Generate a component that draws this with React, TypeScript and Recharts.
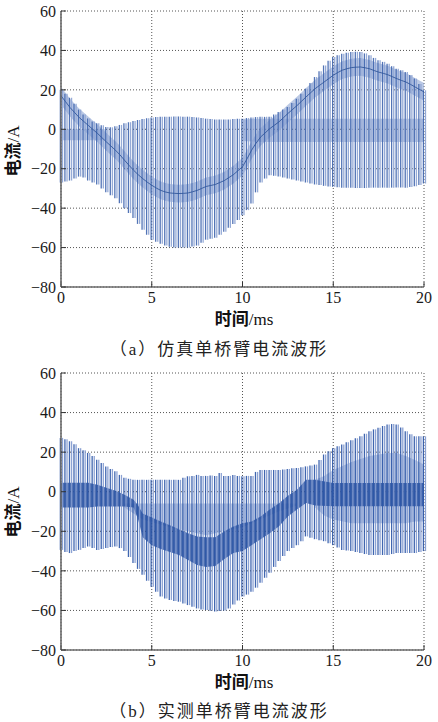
import React from 'react';
import { ComposedChart, Bar, Area, Line, XAxis, YAxis, CartesianGrid } from 'recharts';

// sample times (ms)
const timeMs = [
  0, 0.25, 0.5, 0.75, 1, 1.25, 1.5, 1.75, 2, 2.25, 2.5, 2.75, 3, 3.25, 3.5, 3.75,
  4, 4.25, 4.5, 4.75, 5, 5.25, 5.5, 5.75, 6, 6.25, 6.5, 6.75, 7, 7.25, 7.5, 7.75,
  8, 8.25, 8.5, 8.75, 9, 9.25, 9.5, 9.75, 10, 10.25, 10.5, 10.75, 11, 11.25, 11.5, 11.75,
  12, 12.25, 12.5, 12.75, 13, 13.25, 13.5, 13.75, 14, 14.25, 14.5, 14.75, 15, 15.25, 15.5, 15.75,
  16, 16.25, 16.5, 16.75, 17, 17.25, 17.5, 17.75, 18, 18.25, 18.5, 18.75, 19, 19.25, 19.5, 19.75, 20,
];

const xTicks = [0, 5, 10, 15, 20];
const yTicks = [-80, -60, -40, -20, 0, 20, 40, 60];

// (a) simulated: switching envelope and fundamental
const aHi = [
  20, 18, 16, 13, 10, 7.5, 5.5, 4, 3, 2, 1.2, 1, 1.5, 2.2, 3, 3.6,
  4.2, 4.7, 5.2, 5.6, 6, 6.2, 6.3, 6.4, 6.4, 6.5, 6.5, 6.4, 6.4, 6.2, 6, 5.7,
  5.4, 5.2, 5, 5, 5, 5, 5.2, 5.3, 5.4, 5.7, 6, 6.2, 6.3, 6.3, 6.4, 7.5,
  8.8, 10, 11.3, 13.3, 15.5, 18, 20.6, 23.5, 26.5, 29.5, 32.4, 34.8, 36.7, 37.6, 38.3, 38.8,
  39.2, 39.3, 39.2, 38.5, 37.5, 36.2, 35, 34.2, 33.3, 32, 30.7, 30, 29, 27.5, 25.7, 23, 19.8,
];
const aLo = [
  -27, -26.5, -26, -25, -24, -24.5, -26, -27, -28, -30, -32, -33.5, -35, -37.5, -40, -42.5,
  -45, -48, -51, -53.5, -56, -57, -58, -59, -59.6, -60, -60, -60, -60, -59.5, -59, -57.5,
  -56, -55.5, -55, -53.5, -52, -50, -48, -46, -43.6, -41, -37.7, -32, -27, -25, -23.3, -23.6,
  -24, -24.5, -25, -25.5, -26, -26.5, -27, -27.5, -28, -28.3, -28.7, -29, -29.2, -29.4, -29.6, -29.6,
  -29.7, -29.8, -29.8, -29.8, -29.7, -29.6, -29.6, -29.6, -29.6, -29.6, -29.5, -29.5, -29.6, -29.3, -28.9, -28.2, -27.5,
];
const aFund = [
  17, 14, 11, 8.5, 6, 4, 2, 0, -2, -4.2, -6.4, -8.5, -10.6, -13, -15.7, -18.3,
  -20.8, -23, -25, -26.8, -28.4, -29.8, -31, -31.8, -32.3, -32.5, -32.6, -32.5, -32.3, -31.7, -31, -30,
  -29, -28.5, -28, -27, -26, -24.5, -23, -21, -19, -15, -10.6, -7, -3.9, -1.8, 0.3, 2,
  3.7, 5.8, 8, 10, 12, 14.2, 16.4, 18.5, 20.6, 22.3, 24, 25.7, 27.4, 28.8, 30, 30.7,
  31.3, 31.5, 31.6, 31.2, 30.7, 29.8, 29, 28.4, 27.7, 26.7, 25.7, 24.8, 24, 22.8, 21.5, 20.2, 19,
];
const aRipple = 4.5;
const aZ1T = [0, 1, 2, 2.5];
const aZ1Hi = [0, 0, 0, 0];
const aZ1Lo = [-5.6, -5.6, -5.6, -5.6];
const aZ2T = [10, 11, 12, 14, 16, 18, 20];
const aZ2Hi = [5, 5.4, 5.4, 5.4, 5.4, 5.4, 5.4];
const aZ2Lo = [-6, -6.4, -6.4, -6.4, -6.4, -6.4, -6.4];

// (b) measured
const bHi = [
  27.2, 26.5, 25.5, 24, 22, 21, 19.6, 18, 16.2, 14.5, 12.8, 11.5, 10.3, 8.5, 7, 6.5,
  6, 6, 6, 6, 6, 6, 6, 6, 6, 6, 6, 7, 7.8, 8, 8.5, 8,
  8, 8.2, 8, 9.5, 8, 8, 8.5, 8, 7.8, 8, 8, 10, 11, 11, 11, 11,
  11, 11.2, 11.5, 11.8, 12, 12.4, 12.8, 13.2, 13.7, 16, 18.8, 20.5, 22, 23, 23.8, 25,
  26, 27, 28, 29.3, 30.6, 31.5, 32.3, 33.2, 34, 34.2, 34, 32.5, 30.6, 29, 28, 28, 28,
];
const bLo = [
  -29.4, -30.5, -31, -30, -29.4, -28.5, -27.7, -28.5, -29.4, -29, -28.5, -28, -27.7, -28.5, -30, -33,
  -36, -39, -42, -45, -48, -50.5, -53, -54, -54.7, -55.2, -55.6, -56.5, -57.3, -58.2, -59, -59.5,
  -59.8, -60.2, -60.6, -60.3, -60, -59, -57, -55, -53, -52, -50.5, -48.5, -46, -43.5, -41, -38,
  -35, -32.5, -30, -28.5, -27, -25, -22.6, -23.3, -24, -24.5, -25, -26, -27, -28.2, -29.4, -29.7,
  -30, -30.5, -31, -31.5, -32, -32, -32, -32, -32, -31.5, -31, -31, -31, -31, -31, -30.5, -30,
];
const bDarkT = [0, 1.5, 2, 2.5, 3, 3.5, 4, 4.25, 4.5, 5, 5.5, 6, 6.5, 7, 7.5, 8, 8.5, 9, 9.5, 10, 10.5, 11, 11.5, 12, 12.5, 13, 13.5, 14, 15, 16, 17, 18, 19, 20];
const bDarkHi = [4.5, 4.5, 3.5, 2, 0.5, -1.5, -4, -7, -11, -13, -15, -17, -19, -21, -22.6, -23, -23, -20, -17.6, -16, -15, -12.5, -9, -6, -2, 1, 6, 6, 4.4, 4.4, 4.4, 4.4, 4.4, 4.4];
const bDarkLo = [-8, -8, -7.5, -7.5, -7.5, -7.5, -8, -14, -23, -27, -29, -30.5, -32, -34.5, -37, -38, -37.5, -34, -31, -30, -27, -24, -21, -17.6, -12.5, -9, -5.7, -7, -7.4, -7.4, -7.4, -7.4, -7.4, -7.4];
const bL1T = [3.5, 4.5, 6, 8, 10, 12, 13];
const bL1Hi = [-6, -6, -6, -6, -6, -6, -6];
const bL1Lo = [-8, -14, -18, -22, -18, -10, -7];
const bL2T = [14, 14.5, 15, 16, 17, 18, 18.5, 19, 19.5, 20];
const bL2Hi = [6, 8, 11, 15, 18, 19.6, 19.6, 18, 16, 13.7];
const bL2Lo = [-8, -12, -14, -16, -16, -16, -16, -16, -15, -15];

const bandAt = (ts: number[], his: number[], los: number[], t: number) => {
  const j = ts.indexOf(t);
  return j >= 0 ? [los[j], his[j]] : [null, null];
};

const rowsA = timeMs.map((t, i) => ({
  t,
  lines: [aLo[i], aHi[i]],
  linesB: [aLo[i], aHi[i]],
  fund: aFund[i],
  fundBand: [aFund[i] - aRipple, aFund[i] + aRipple],
  zero1: bandAt(aZ1T, aZ1Hi, aZ1Lo, t),
  zero2: bandAt(aZ2T, aZ2Hi, aZ2Lo, t),
}));

const rowsB = timeMs.map((t, i) => ({
  t,
  lines: [bLo[i], bHi[i]],
  linesB: [bLo[i], bHi[i]],
  dark: bandAt(bDarkT, bDarkHi, bDarkLo, t),
  light1: bandAt(bL1T, bL1Hi, bL1Lo, t),
  light2: bandAt(bL2T, bL2Hi, bL2Lo, t),
}));

const serif = '"Liberation Serif", "Times New Roman", serif';
const cjk = '"Noto Sans CJK SC", sans-serif';
const fmtY = (v: number) => (v < 0 ? '\u2212' + Math.abs(v) : String(v));
const tickStyle = { fontSize: 16, fill: '#1a1a1a', fontFamily: serif };

const frame = () => [
  <CartesianGrid key="g" stroke="#555" strokeDasharray="1 2" strokeWidth={1} />,
  <XAxis
    key="x"
    dataKey="t"
    type="number"
    domain={[0, 20]}
    ticks={xTicks}
    height={30}
    tickSize={-5}
    tickMargin={9.5}
    tick={tickStyle}
    axisLine={{ stroke: '#6b6b6b', strokeWidth: 1.6 }}
    tickLine={{ stroke: '#333' }}
  />,
  <XAxis
    key="xt"
    xAxisId="top"
    orientation="top"
    type="number"
    domain={[0, 20]}
    height={0}
    tick={false}
    tickLine={false}
    axisLine={{ stroke: '#333', strokeWidth: 1 }}
  />,
  <YAxis
    key="y"
    type="number"
    domain={[-80, 60]}
    ticks={yTicks}
    width={50}
    tickSize={-5}
    tickMargin={10}
    tickFormatter={fmtY}
    tick={tickStyle}
    axisLine={{ stroke: '#6b6b6b', strokeWidth: 1.6 }}
    tickLine={{ stroke: '#333' }}
  />,
  <YAxis
    key="yr"
    yAxisId="right"
    orientation="right"
    type="number"
    domain={[-80, 60]}
    width={0}
    tick={false}
    tickLine={false}
    axisLine={{ stroke: '#777', strokeWidth: 1.4 }}
  />,
];

const Caption = ({ top, children }: { top: number; children: React.ReactNode }) => (
  <div
    style={{
      position: 'absolute',
      left: 0,
      top,
      width: 438,
      textAlign: 'center',
      fontFamily: cjk,
      fontSize: 17,
      lineHeight: '20px',
      letterSpacing: 2,
      color: '#222',
      whiteSpace: 'nowrap',
    }}
  >
    {children}
  </div>
);

const XTitle = ({ top }: { top: number }) => (
  <div
    style={{
      position: 'absolute',
      left: 244 - 60,
      top,
      width: 120,
      textAlign: 'center',
      fontSize: 17,
      lineHeight: '20px',
      color: '#111',
      whiteSpace: 'nowrap',
    }}
  >
    <span style={{ fontFamily: cjk, fontWeight: 700 }}>时间</span>
    <span style={{ fontFamily: serif }}>/ms</span>
  </div>
);

const YTitle = ({ cy }: { cy: number }) => (
  <div
    style={{
      position: 'absolute',
      left: 12 - 40,
      top: cy - 10,
      width: 80,
      height: 20,
      textAlign: 'center',
      fontSize: 17,
      lineHeight: '20px',
      color: '#111',
      transform: 'rotate(-90deg)',
      whiteSpace: 'nowrap',
    }}
  >
    <span style={{ fontFamily: cjk, fontWeight: 700 }}>电流</span>
    <span style={{ fontFamily: serif }}>/A</span>
  </div>
);

export default function App() {
  return (
    <div style={{ position: 'absolute', left: 0, top: 0, width: 438, height: 722, background: '#fff', overflow: 'hidden' }}>
      <div style={{ position: 'absolute', left: 0, top: 0 }}>
        <ComposedChart width={438} height={340} data={rowsA} margin={{ top: 11, right: 14, bottom: 23, left: 11 }} barGap={0.8}>
          {frame()}
          <Bar dataKey="lines" barSize={1.3} fill="#3f65ae" fillOpacity={0.9} isAnimationActive={false} />
          <Bar dataKey="linesB" barSize={1.3} fill="#90a6d5" fillOpacity={0.95} isAnimationActive={false} />
          <Area dataKey="zero1" type="linear" stroke="none" fill="#7893c9" fillOpacity={0.5} connectNulls dot={false} activeDot={false} isAnimationActive={false} />
          <Area dataKey="zero2" type="linear" stroke="none" fill="#6f8bc5" fillOpacity={0.45} connectNulls dot={false} activeDot={false} isAnimationActive={false} />
          <Area dataKey="fundBand" type="linear" stroke="none" fill="#7893cb" fillOpacity={0.5} dot={false} activeDot={false} isAnimationActive={false} />
          <Line dataKey="fund" type="linear" stroke="#2d5399" strokeWidth={1} strokeOpacity={0.85} dot={false} activeDot={false} isAnimationActive={false} />
        </ComposedChart>
      </div>
      <XTitle top={308} />
      <YTitle cy={151} />
      <Caption top={338}>
        （<span style={{ fontFamily: serif }}>a</span>）仿真单桥臂电流波形
      </Caption>

      <div style={{ position: 'absolute', left: 0, top: 360 }}>
        <ComposedChart width={438} height={340} data={rowsB} margin={{ top: 13, right: 14, bottom: 20, left: 11 }} barGap={0.8}>
          {frame()}
          <Bar dataKey="lines" barSize={1.3} fill="#2b55a7" fillOpacity={0.9} isAnimationActive={false} />
          <Bar dataKey="linesB" barSize={1.3} fill="#8199cf" fillOpacity={0.9} isAnimationActive={false} />
          <Area dataKey="light1" type="linear" stroke="none" fill="#8aa2d2" fillOpacity={0.55} connectNulls dot={false} activeDot={false} isAnimationActive={false} />
          <Area dataKey="light2" type="linear" stroke="none" fill="#8aa2d2" fillOpacity={0.55} connectNulls dot={false} activeDot={false} isAnimationActive={false} />
          <Area dataKey="dark" type="linear" stroke="none" fill="#234c9d" fillOpacity={0.8} connectNulls dot={false} activeDot={false} isAnimationActive={false} />
        </ComposedChart>
      </div>
      <XTitle top={671} />
      <YTitle cy={512} />
      <Caption top={700}>
        （<span style={{ fontFamily: serif }}>b</span>）实测单桥臂电流波形
      </Caption>
    </div>
  );
}
